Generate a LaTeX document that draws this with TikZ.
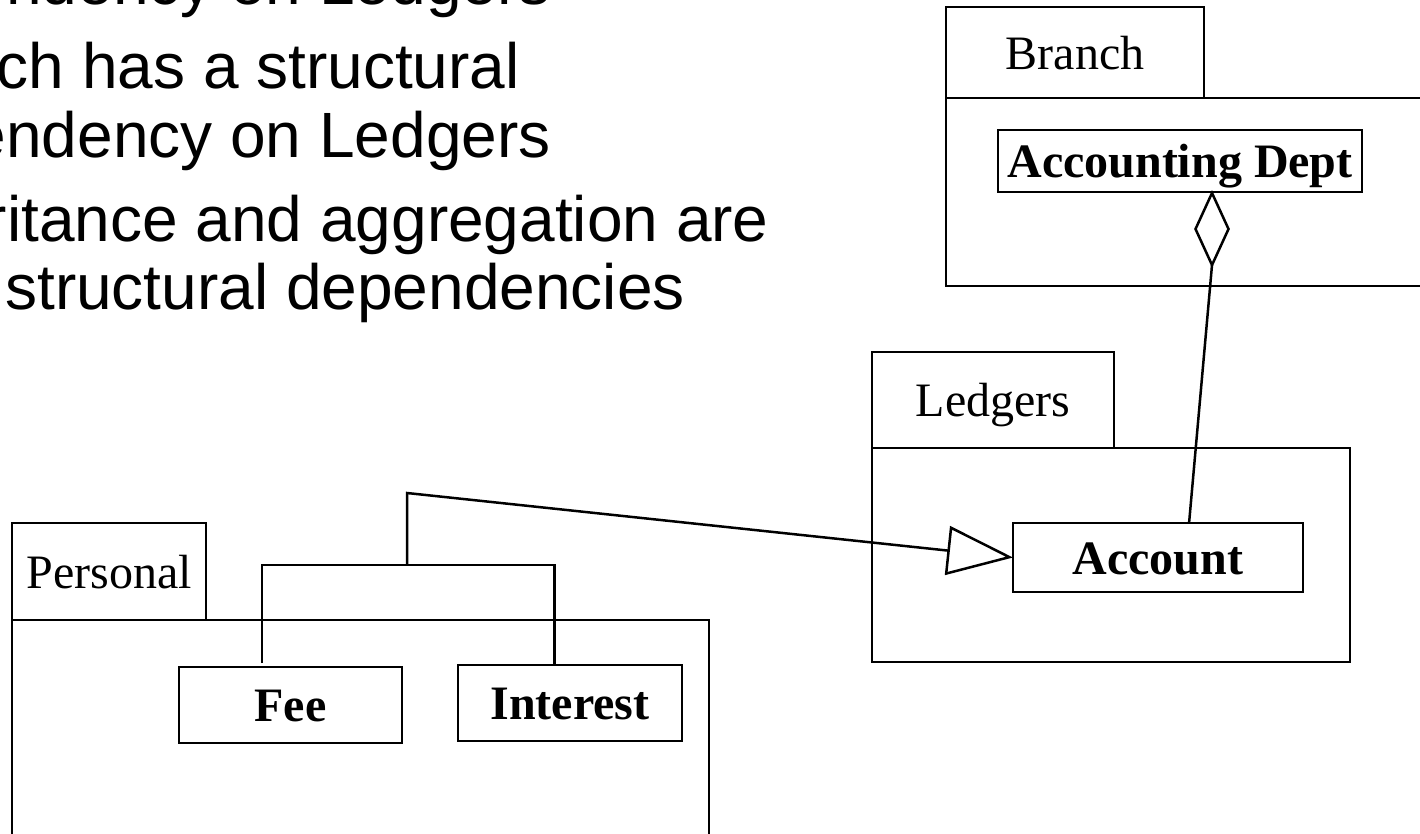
\documentclass[tikz,border=0pt]{standalone}
\usepackage{fontspec}
\setmainfont{Liberation Serif}
\newfontfamily\slidefont{Liberation Sans}
\usepackage{tikz}
\usetikzlibrary{arrows.meta,shapes.geometric,positioning}
\tikzstyle{pkgtab} = [draw, rectangle, line width=2.5pt, inner sep=0pt, outer sep=0pt,
    text height=33pt, text depth=0pt, font=\fontsize{48}{58}\selectfont]
\tikzstyle{pkgbody} = [draw, rectangle, line width=2.5pt, inner sep=0pt, outer sep=0pt]
\tikzstyle{cls} = [draw, rectangle, line width=2.5pt, inner sep=0pt, outer sep=0pt,
    text height=33pt, text depth=0pt, font=\fontsize{48}{58}\selectfont\bfseries]
\tikzstyle{bullet} = [inner sep=0pt, font=\slidefont\fontsize{64}{70}\selectfont]

\begin{document}
\begin{tikzpicture}[x=1pt, y=-1pt, line width=2.5pt]
  \useasboundingbox (0,0) rectangle (1420,833);
  % slide text, cut off at the left
  \node [bullet, anchor=base east] (t1) at (552,4) {endency on Ledgers};
  \node [bullet, anchor=base east] (t2) at (521,88) {ch has a structural};
  \node [bullet, anchor=base east] (t3) at (552,157) {endency on Ledgers};
  \node [bullet, anchor=base east] (t4) at (770,241) {ritance and aggregation are};
  \node [bullet, anchor=base west] (t5) at (4,309) {structural dependencies};
  % Branch package
  \node [pkgtab, minimum width=258pt, minimum height=91pt, anchor=north west] (branch) at (946,7) {Branch};
  \node [pkgbody, minimum width=500pt, minimum height=188pt, below right=0pt and 0pt of branch.south west] (branchbody) {};
  \node [cls, minimum width=364pt, minimum height=62pt] (dept) at (1180,161) {Accounting Dept};
  \node [draw, diamond, line width=2.5pt, inner sep=0pt, outer sep=0pt, minimum width=33pt, minimum height=72pt] (agg) at (1212,229) {};
  % Ledgers package
  \node [pkgtab, minimum width=242pt, minimum height=96pt, anchor=north west] (ledgers) at (872,352) {Ledgers};
  \node [pkgbody, minimum width=478pt, minimum height=214pt, below right=0pt and 0pt of ledgers.south west] (ledgersbody) {};
  \node [cls, minimum width=290pt, minimum height=69pt] (acct) at (1158,557.5) {Account};
  % Personal package
  \node [pkgtab, minimum width=194pt, minimum height=97pt, anchor=north west] (personal) at (12,523) {Personal};
  \node [pkgbody, minimum width=697pt, minimum height=250pt, below right=0pt and 0pt of personal.south west] (personalbody) {};
  \node [cls, minimum width=223pt, minimum height=76pt] (fee) at (290.5,705) {Fee};
  \node [cls, minimum width=224pt, minimum height=76pt] (intr) at (570,703) {Interest};
  % connectors
  \coordinate (bar) at (407,565);
  \coordinate (bend) at (407,493);
  \draw [shorten <=4pt] (fee.127) -- (fee.127 |- bar) -- (intr.112 |- bar) -- (intr.112);
  \draw [-{Triangle[open, length=66pt, width=49pt]}] (bar) -- (bend) -- (acct.west);
  \draw (acct.48) -- (agg.south);
\end{tikzpicture}
\end{document}
